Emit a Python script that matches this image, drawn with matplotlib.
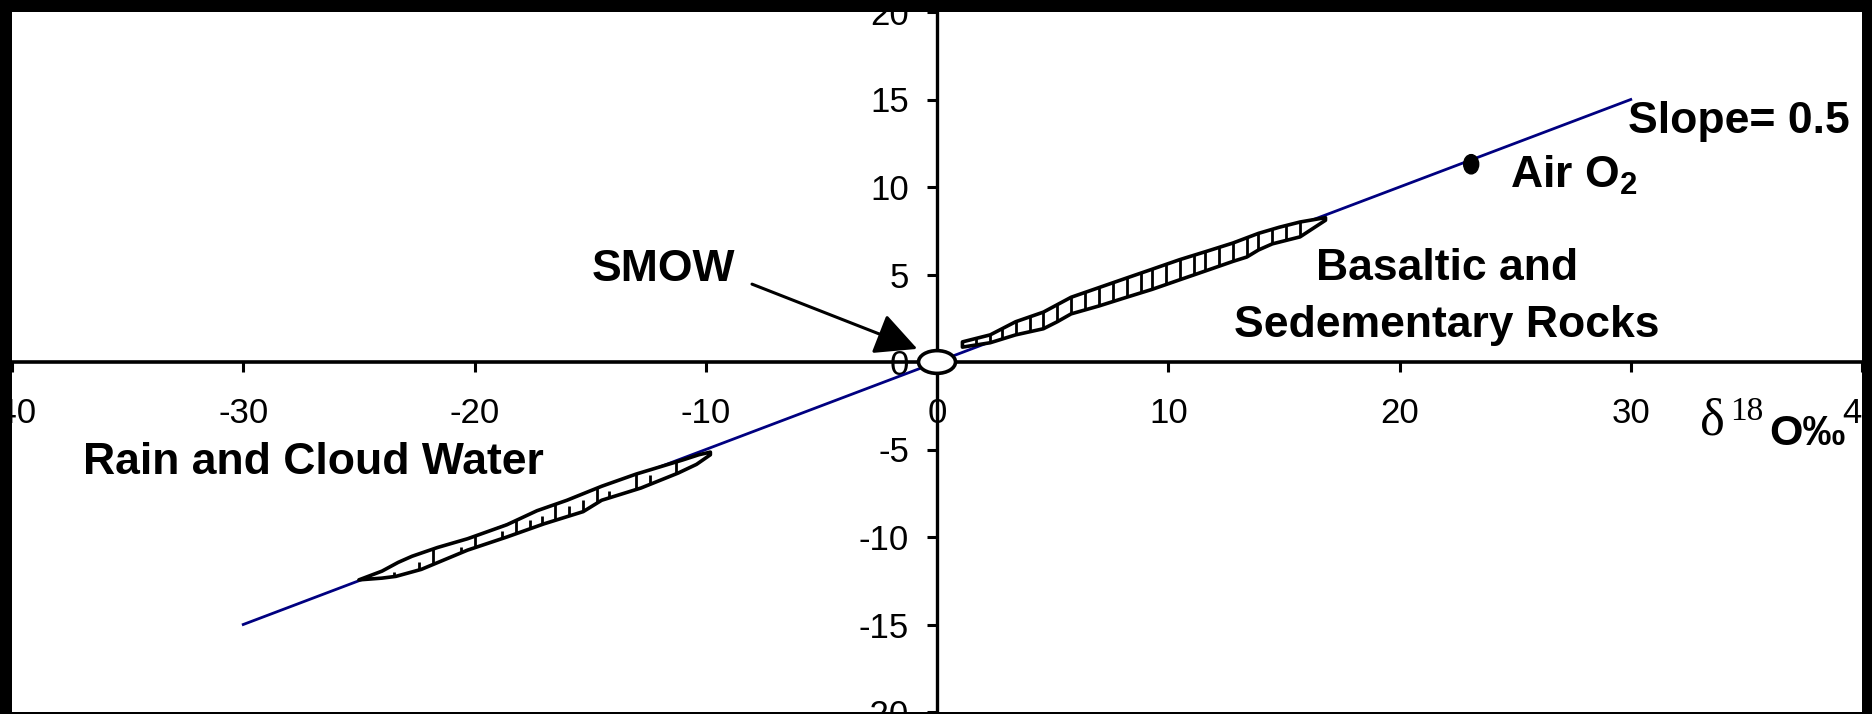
import numpy as np
import matplotlib
matplotlib.use("Agg")
import matplotlib.pyplot as plt
from matplotlib.patches import Polygon, Ellipse

plt.rcParams['font.family'] = ['Liberation Sans', 'DejaVu Sans']
plt.rcParams['mathtext.default'] = 'regular'
plt.rcParams['axes.unicode_minus'] = False

# mass-dependent fractionation line, slope 0.5
line_x = [-30, 30]
line_y = [-15, 15]

smow = (0.0, 0.0)
air_o2 = (23.1, 11.3)

# outline of the rain & cloud water field
rain_upper_x = [-25.0, -24.0, -23.3, -22.7, -21.6, -20.3, -18.6, -17.3, -16.0, -14.5, -13.0, -12.0, -11.0, -10.3, -9.8]
rain_upper_y = [-12.45, -11.95, -11.45, -11.1, -10.6, -10.1, -9.3, -8.5, -7.9, -7.1, -6.4, -6.0, -5.6, -5.3, -5.15]
rain_lower_x = [-25.0, -24.0, -23.4, -22.3, -20.3, -18.6, -17.0, -15.3, -14.5, -12.8, -11.2, -10.4, -9.8]
rain_lower_y = [-12.45, -12.35, -12.25, -11.85, -10.75, -10.0, -9.25, -8.55, -7.9, -7.2, -6.35, -5.85, -5.3]
rain_hatch_full = [-21.8, -20.0, -18.2, -16.5, -14.7, -13.0, -11.3]
rain_hatch_part = [-24.1, -23.5, -22.4, -20.6, -18.8, -17.6, -17.1, -15.9, -15.3, -14.2, -12.4]

# outline of the basaltic & sedimentary rock field
rock_upper_x = [1.1, 2.3, 3.4, 4.6, 5.8, 7.0, 8.2, 9.3, 10.5, 11.6, 12.8, 13.9, 14.8, 15.7, 16.8]
rock_upper_y = [1.15, 1.55, 2.3, 2.85, 3.7, 4.25, 4.8, 5.3, 5.85, 6.3, 6.8, 7.35, 7.7, 8.0, 8.25]
rock_lower_x = [1.1, 2.3, 3.4, 4.6, 5.2, 5.8, 7.0, 8.2, 9.3, 10.5, 11.6, 12.8, 13.4, 13.9, 14.5, 15.7, 16.8]
rock_lower_y = [0.85, 1.1, 1.55, 1.9, 2.3, 2.75, 3.2, 3.7, 4.15, 4.7, 5.2, 5.75, 6.0, 6.4, 6.75, 7.15, 8.1]
rock_hatch = [1.7, 2.3, 2.8, 3.4, 4.0, 4.6, 5.2, 5.8, 6.4, 7.0, 7.6, 8.2, 8.8, 9.3, 9.9,
              10.5, 11.1, 11.6, 12.2, 12.8, 13.4, 13.9, 14.5, 15.1, 15.7]

x_ticks = [-40, -30, -20, -10, 0, 10, 20, 30, 40]
y_ticks = [-20, -15, -10, -5, 0, 5, 10, 15, 20]


def lens(ax, ux, uy, lx, ly, full, part=()):
    pts = list(zip(ux, uy)) + list(zip(lx[::-1], ly[::-1]))
    fill = Polygon(pts, closed=True, facecolor='white', edgecolor='none', zorder=3)
    ax.add_patch(fill)
    vl = ax.vlines(full, -20, 20, colors='black', linewidth=2, zorder=4)
    vl.set_clip_path(fill)
    if len(part):
        p = np.array(part)
        vp = ax.vlines(p, -20, 0.5 * p - 0.25, colors='black', linewidth=2, zorder=4)
        vp.set_clip_path(fill)
    ax.add_patch(Polygon(pts, closed=True, facecolor='none', edgecolor='black',
                         linewidth=2.6, joinstyle='round', zorder=5))


fig = plt.figure(figsize=(18.72, 7.14), dpi=100, facecolor='black')
ax = fig.add_axes([12 / 1872, 2 / 714, 1850 / 1872, 700 / 714])
ax.set_facecolor('white')
ax.set_xlim(-40, 40)
ax.set_ylim(-20, 20)

for s in ['top', 'right']:
    ax.spines[s].set_visible(False)
ax.spines['left'].set_position(('data', 0))
ax.spines['bottom'].set_position(('data', 0))
ax.spines['left'].set_linewidth(2.4)
ax.spines['bottom'].set_linewidth(2.6)

ax.set_xticks(x_ticks)
ax.set_yticks(y_ticks)
ax.tick_params(axis='x', direction='out', length=7, width=2.2, pad=18, labelsize=25)
ax.tick_params(axis='y', direction='out', length=7, width=2.2, pad=13, labelsize=25)

ax.plot(line_x, line_y, color='#000080', linewidth=2, zorder=2)

lens(ax, rain_upper_x, rain_upper_y, rain_lower_x, rain_lower_y, rain_hatch_full, rain_hatch_part)
lens(ax, rock_upper_x, rock_upper_y, rock_lower_x, rock_lower_y, rock_hatch)

ax.add_patch(Ellipse(smow, 1.6, 1.3, facecolor='white', edgecolor='black', linewidth=2.6, zorder=7))
ax.add_patch(Ellipse(air_o2, 0.65, 1.1, facecolor='black', edgecolor='black', zorder=7))

ax.annotate('', xy=(-0.85, 0.75), xytext=(-8.0, 4.45),
            arrowprops=dict(arrowstyle='-|>,head_length=1.3,head_width=0.65', mutation_scale=20,
                            color='black', linewidth=2.2, shrinkA=0, shrinkB=0), zorder=6)

bold = dict(fontsize=32, fontweight='bold', color='black', va='baseline', zorder=8)
ax.text(-36.93, -6.4, 'Rain and Cloud Water', ha='left', **bold)
ax.text(-11.84, 4.63, 'SMOW', ha='center', **bold)
ax.text(22.05, 4.66, 'Basaltic and', ha='center', **bold)
ax.text(22.05, 1.43, 'Sedementary Rocks', ha='center', **bold)
ax.text(29.9, 13.09, 'Slope= 0.5', ha='left', **bold)
ax.text(24.78, 9.94, r'Air O$_2$', ha='left', **bold)

# axis label: delta 18 O permil
ax.text(33.0, -4.17, '\u03b4', family=['Liberation Serif', 'DejaVu Serif'], fontsize=38,
        va='baseline', ha='left', zorder=8)
ax.text(34.3, -1.95, '18', family=['Liberation Serif', 'DejaVu Serif'], fontsize=24,
        va='top', ha='left', zorder=8)
ax.text(36.0, -4.74, 'O\u2030', fontsize=31, fontweight='bold', va='baseline', ha='left', zorder=8)

fig.savefig('out.png', dpi=100, facecolor='black')
